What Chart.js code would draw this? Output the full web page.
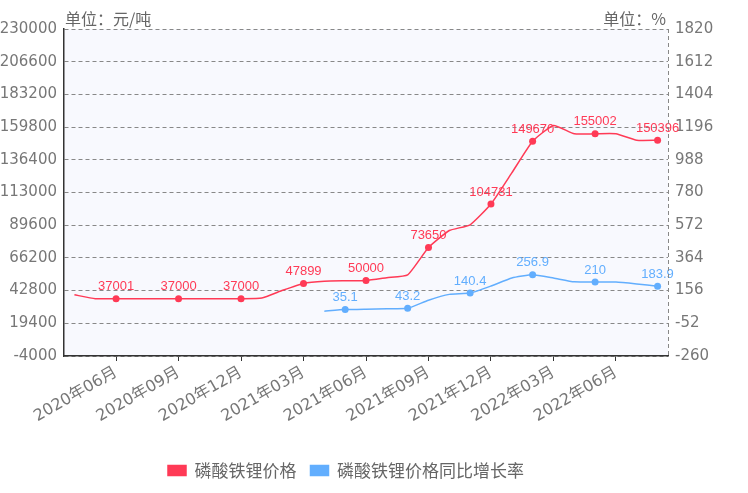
<!DOCTYPE html>
<html>
<head>
<meta charset="utf-8">
<script src="https://cdn.jsdelivr.net/npm/chart.js@4.4.1/dist/chart.umd.min.js"></script>
<style>
  html, body { margin: 0; padding: 0; background: #ffffff; }
  #wrap { width: 748px; height: 493px; }
</style>
</head>
<body>
<div id="wrap"><canvas id="c" width="748" height="493"></canvas></div>
<script>
// ---- data ----
const categories = [
  '2020年04月','2020年05月','2020年06月','2020年07月','2020年08月','2020年09月',
  '2020年10月','2020年11月','2020年12月','2021年01月','2021年02月','2021年03月',
  '2021年04月','2021年05月','2021年06月','2021年07月','2021年08月','2021年09月',
  '2021年10月','2021年11月','2021年12月','2022年01月','2022年02月','2022年03月',
  '2022年04月','2022年05月','2022年06月','2022年07月','2022年08月'
];
const priceValues = [
  39800, 37000, 37001, 37000, 37000, 37000, 37000, 37000, 37000, 37500, 43000, 47899,
  49500, 49800, 50000, 52000, 54000, 73650, 85800, 89900, 104731, 127000, 149670, 161000,
  155000, 155002, 155000, 150400, 150396
];
const growthValues = [
  null, null, null, null, null, null, null, null, null, null, null, null,
  25, 35.1, 38, 40, 43.2, 95, 132, 140.4, 185, 236, 256.9, 236,
  212, 210, 210, 198, 183.9
];
const priceLabelIdx = [2, 5, 8, 11, 14, 17, 20, 22, 25, 28];
const growthLabelIdx = [13, 16, 19, 22, 25, 28];
const xLabelIdx = [2, 5, 8, 11, 14, 17, 20, 23, 26];
const leftTicks = { min: -4000, max: 230000, step: 23400 };
const rightTicks = { min: -260, max: 1820, step: 208 };
const seriesNames = ['磷酸铁锂价格', '磷酸铁锂价格同比增长率'];
const unitLeft = '单位：元/吨';
const unitRight = '单位：%';

// ---- styles ----
const RED = '#ff3a56';
const BLUE = '#62aefe';
const AXIS_FONT = '"DejaVu Sans", "Noto Sans CJK SC", sans-serif';
const CJK_FONT = '"Noto Sans CJK SC", "Noto Sans", sans-serif';
const LABEL_FONT = '"Liberation Sans", Arial, sans-serif';

const plotBg = {
  id: 'plotBg',
  afterLayout(chart) {
    const lg = chart.legend;
    if (lg) { lg.left -= 28; lg.right -= 28; }
  },
  beforeDraw(chart) {
    const { ctx, chartArea: a } = chart;
    ctx.save();
    ctx.fillStyle = '#f8f9fe';
    ctx.fillRect(a.left, a.top, a.right - a.left, a.bottom - a.top);
    ctx.restore();
  },
  afterDraw(chart) {
    const { ctx, chartArea: a } = chart;
    ctx.save();
    // right dashed border
    ctx.strokeStyle = '#888';
    ctx.lineWidth = 1;
    ctx.setLineDash([4, 3]);
    ctx.beginPath();
    ctx.moveTo(a.right + 0.5, a.top);
    ctx.lineTo(a.right + 0.5, a.bottom);
    ctx.stroke();
    ctx.setLineDash([]);
    // unit labels
    ctx.fillStyle = '#666';
    ctx.font = '16px ' + CJK_FONT;
    ctx.textBaseline = 'middle';
    ctx.textAlign = 'left';
    ctx.fillText(unitLeft, a.left + 1, a.top - 10);
    ctx.textAlign = 'right';
    ctx.fillText(unitRight, a.right - 2, a.top - 10);
    ctx.restore();
  }
};

const valueLabels = {
  id: 'valueLabels',
  afterDatasetsDraw(chart) {
    const { ctx } = chart;
    const sets = [priceLabelIdx, growthLabelIdx];
    const colors = [RED, BLUE];
    ctx.save();
    ctx.font = '13px ' + LABEL_FONT;
    ctx.textAlign = 'center';
    ctx.textBaseline = 'middle';
    chart.data.datasets.forEach((ds, di) => {
      const meta = chart.getDatasetMeta(di);
      ctx.fillStyle = colors[di];
      sets[di].forEach(i => {
        const pt = meta.data[i];
        if (!pt || ds.data[i] == null) return;
        ctx.fillText(String(ds.data[i]), pt.x, pt.y - 12);
      });
    });
    ctx.restore();
  }
};

new Chart(document.getElementById('c'), {
  type: 'line',
  data: {
    labels: categories,
    datasets: [
      {
        label: seriesNames[0],
        data: priceValues,
        yAxisID: 'y',
        borderColor: RED,
        backgroundColor: RED,
        borderWidth: 1.5,
        tension: 0.15,
        pointRadius: c => priceLabelIdx.includes(c.dataIndex) ? 3.5 : 0,
        pointHoverRadius: 0,
        pointBorderWidth: 0,
        pointBackgroundColor: RED
      },
      {
        label: seriesNames[1],
        data: growthValues,
        yAxisID: 'y1',
        borderColor: BLUE,
        backgroundColor: BLUE,
        borderWidth: 1.5,
        tension: 0.15,
        pointRadius: c => growthLabelIdx.includes(c.dataIndex) ? 3.5 : 0,
        pointHoverRadius: 0,
        pointBorderWidth: 0,
        pointBackgroundColor: BLUE
      }
    ]
  },
  options: {
    responsive: false,
    animation: false,
    events: [],
    layout: { padding: { top: 29, left: 0, right: 0, bottom: 4 } },
    plugins: {
      tooltip: { enabled: false },
      legend: {
        position: 'bottom',
        labels: {
          boxWidth: 18,
          boxHeight: 10,
          padding: 14,
          color: '#666',
          font: { size: 17, family: CJK_FONT }
        }
      }
    },
    scales: {
      x: {
        offset: true,
        afterFit: s => { s.height = 92; },
        grid: {
          display: true,
          drawOnChartArea: false,
          drawTicks: true,
          tickLength: 5,
          color: c => xLabelIdx.includes(c.index) ? '#333' : 'rgba(0,0,0,0)'
        },
        border: { display: true, color: '#333', width: 1.5 },
        ticks: {
          autoSkip: false,
          minRotation: 30,
          maxRotation: 30,
          padding: 2,
          color: '#777',
          font: { size: 16, family: AXIS_FONT },
          callback: (v, i) => xLabelIdx.includes(i) ? categories[i] : ''
        }
      },
      y: {
        position: 'left',
        min: leftTicks.min,
        max: leftTicks.max,
        afterFit: s => { s.width = 64; },
        afterBuildTicks: s => {
          const t = [];
          for (let v = leftTicks.min; v <= leftTicks.max; v += leftTicks.step) t.push({ value: v });
          s.ticks = t;
        },
        grid: { color: '#888', lineWidth: 1, drawTicks: false },
        border: { display: true, color: '#333', width: 1.5, dash: [4, 3] },
        ticks: {
          padding: 7,
          color: '#777',
          font: { size: 15, family: AXIS_FONT },
          callback: v => String(v)
        }
      },
      y1: {
        position: 'right',
        min: rightTicks.min,
        max: rightTicks.max,
        afterFit: s => { s.width = 80; },
        afterBuildTicks: s => {
          const t = [];
          for (let v = rightTicks.min; v <= rightTicks.max; v += rightTicks.step) t.push({ value: v });
          s.ticks = t;
        },
        grid: { display: false, drawTicks: false },
        border: { display: false },
        ticks: {
          padding: 7,
          color: '#777',
          font: { size: 15, family: AXIS_FONT },
          callback: v => String(v)
        }
      }
    }
  },
  plugins: [plotBg, valueLabels]
});
</script>
</body>
</html>
